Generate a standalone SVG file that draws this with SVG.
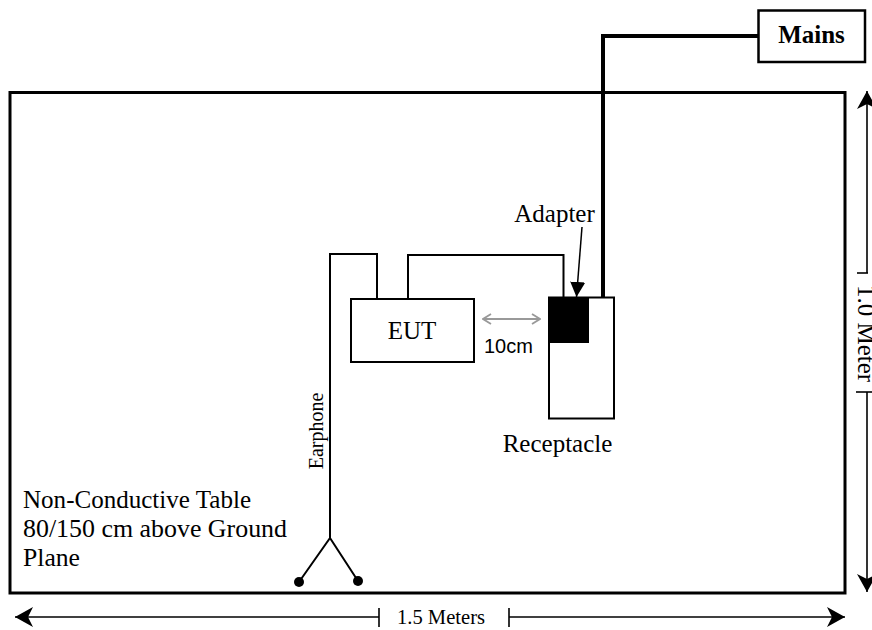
<svg xmlns="http://www.w3.org/2000/svg" width="872" height="630" viewBox="0 0 872 630">
<style>
  .t{font-family:"Liberation Serif","Times New Roman",serif;fill:#000}
  .a{font-family:"Liberation Sans",Arial,sans-serif;fill:#000}
  .box{fill:#fff;stroke:#000;stroke-width:2}
  .w{fill:none;stroke:#000;stroke-width:2}
  .dim{fill:none;stroke:#000;stroke-width:1.6}
</style>
<defs>
  <marker id="ah" viewBox="0 0 20 20" refX="20" refY="10" markerWidth="20" markerHeight="20" markerUnits="userSpaceOnUse" orient="auto">
    <path d="M20,10 L2,0 L7,10 L2,20 Z" fill="#000"/>
  </marker>
  <marker id="af" viewBox="0 0 16 16" refX="16" refY="8" markerWidth="15" markerHeight="15" markerUnits="userSpaceOnUse" orient="auto">
    <path d="M16,8 L0,0 L0,16 Z" fill="#000"/>
  </marker>
  <marker id="ag" viewBox="0 0 10 12" refX="9" refY="6" markerWidth="10" markerHeight="12" markerUnits="userSpaceOnUse" orient="auto-start-reverse">
    <path d="M1,1 L9,6 L1,11" fill="none" stroke="#999" stroke-width="1.8"/>
  </marker>
</defs>

<g id="table">
  <rect x="10" y="92.5" width="835" height="500.5" fill="none" stroke="#000" stroke-width="3"/>
  <text class="t" x="23" y="508" font-size="25" textLength="228" lengthAdjust="spacingAndGlyphs">Non-Conductive Table</text>
  <text class="t" x="23" y="537" font-size="25" textLength="264" lengthAdjust="spacingAndGlyphs">80/150 cm above Ground</text>
  <text class="t" x="23" y="566" font-size="25" textLength="57" lengthAdjust="spacingAndGlyphs">Plane</text>
</g>

<g id="mains">
  <rect x="758.5" y="10.5" width="106.5" height="51.5" fill="#fff" stroke="#000" stroke-width="2.5"/>
  <text class="t" x="811.5" y="43" font-size="25" font-weight="bold" text-anchor="middle">Mains</text>
</g>

<g id="eut">
  <rect class="box" x="351" y="299" width="123" height="63"/>
  <text class="t" x="412" y="339" font-size="25" text-anchor="middle">EUT</text>
</g>

<g id="receptacle">
  <rect class="box" x="549" y="297.5" width="65" height="121"/>
  <rect x="550" y="298" width="39" height="45" fill="#000"/>
  <text class="t" x="557.5" y="452" font-size="25" text-anchor="middle">Receptacle</text>
</g>

<g id="adapter-label">
  <text class="t" x="554.5" y="222" font-size="25" text-anchor="middle">Adapter</text>
</g>

<g id="earphone">
  <circle cx="299" cy="582" r="5"/>
  <circle cx="358" cy="581" r="5"/>
  <text class="t" transform="translate(323,431) rotate(-90)" font-size="20" text-anchor="middle">Earphone</text>
</g>

<g id="connectors">
  <path class="w" d="M377,299 V254 H330 V538 M299,582 L330,538 L358,581"/>
  <path class="w" d="M408,299 V255 H563.5 V297.5"/>
  <path d="M603,297 V36 H758.5" fill="none" stroke="#000" stroke-width="4"/>
  <line x1="582" y1="227" x2="576.5" y2="297" stroke="#000" stroke-width="1.5" marker-end="url(#af)"/>
  <line x1="483" y1="319" x2="540" y2="319" stroke="#999" stroke-width="2" marker-start="url(#ag)" marker-end="url(#ag)"/>
  <text class="a" x="484" y="353" font-size="20">10cm</text>
</g>

<g id="dimensions">
  <line class="dim" x1="867" y1="273" x2="867" y2="91" marker-end="url(#ah)"/>
  <line class="dim" x1="857" y1="273" x2="868" y2="273"/>
  <line class="dim" x1="867" y1="392" x2="867" y2="592" marker-end="url(#ah)"/>
  <line class="dim" x1="856" y1="392" x2="872" y2="392"/>
  <text class="t" transform="translate(858,285) rotate(90)" font-size="25">1.0 Meter</text>
  <line class="dim" x1="379" y1="617" x2="15" y2="617" marker-end="url(#ah)"/>
  <line class="dim" x1="379" y1="608" x2="379" y2="627"/>
  <line class="dim" x1="509" y1="617" x2="845" y2="617" marker-end="url(#ah)"/>
  <line class="dim" x1="509" y1="608" x2="509" y2="627"/>
  <text class="t" x="441" y="624" font-size="21" text-anchor="middle" textLength="88" lengthAdjust="spacingAndGlyphs">1.5 Meters</text>
</g>
</svg>
